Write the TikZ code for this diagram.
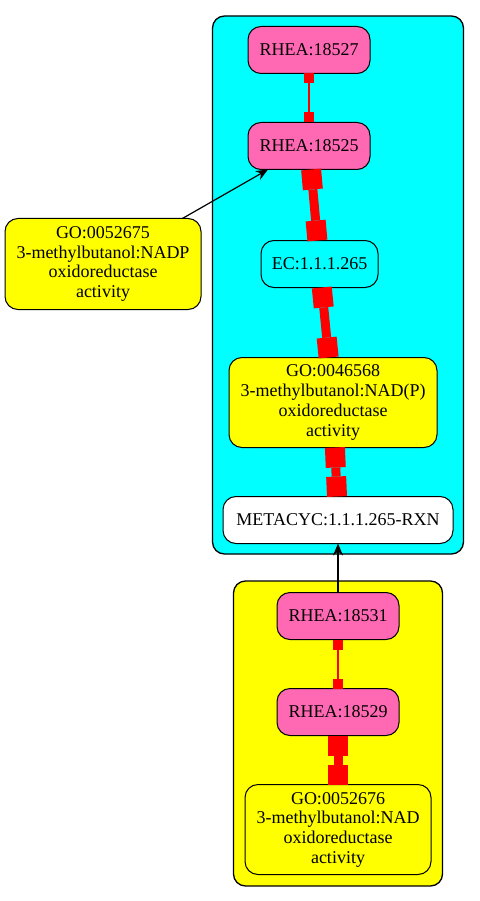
\documentclass[tikz,border=0pt]{standalone}
\usepackage{fontspec}
\setmainfont{Liberation Serif}
\usetikzlibrary{arrows.meta, positioning, fit, backgrounds}

\definecolor{rheapink}{HTML}{FF69B4}
\definecolor{aqua}{HTML}{00FFFF}
\definecolor{goyellow}{HTML}{FFFF00}

\begin{document}
\begin{tikzpicture}[
    x=1pt, y=-1pt,
    node distance=49pt,
    every node/.style={font=\fontsize{18}{19.7}\selectfont},
    box/.style={rectangle, rounded corners=13pt, draw, line width=1pt, align=center, inner sep=0pt, outer sep=0pt},
    rhea/.style={box, fill=rheapink, minimum width=122pt, minimum height=47pt},
    goterm/.style={box, fill=goyellow, minimum height=90pt},
    plain/.style={box, fill=#1, minimum height=47pt},
    cluster/.style={rectangle, rounded corners=12pt, draw, line width=1.3pt, fill=#1, inner sep=10.5pt},
    arrow/.style={line width=1.2pt, arrows={-Stealth[length=12pt,width=10pt,inset=4pt]}},
    link/.style={red, line width=1.5pt, arrows={Square[length=10pt,width=10pt,line width=0pt]-Square[length=10pt,width=10pt,line width=0pt]}},
    thicklink/.style={red, line width=9pt, arrows={Square[length=20pt,width=20pt,line width=0pt]-Square[length=20pt,width=20pt,line width=0pt]}},
]
    \useasboundingbox (0,0) rectangle (479,901);

    \node[rhea] (r18527) at (309,50) {RHEA:18527};
    \node[rhea, below=of r18527] (r18525) {RHEA:18525};
    \node[plain=aqua, minimum width=117pt, below=71pt of r18525, xshift=10.5pt] (ec) {EC:1.1.1.265};
    \node[goterm, minimum width=208pt, below=70pt of ec, xshift=13.5pt] (go46568) {GO:0046568\\3-methylbutanol:NAD(P)\\oxidoreductase\\activity};
    \node[plain=white, minimum width=230pt, below=of go46568, xshift=5pt] (metacyc) {METACYC:1.1.1.265-RXN};
    \node[goterm, minimum width=196pt, minimum height=91pt, left=60pt of ec] (go52675) {GO:0052675\\3-methylbutanol:NADP\\oxidoreductase\\activity};

    \node[rhea, below=of metacyc] (r18531) {RHEA:18531};
    \node[rhea, below=of r18531] (r18529) {RHEA:18529};
    \node[goterm, minimum width=186pt, below=of r18529] (go52676) {GO:0052676\\3-methylbutanol:NAD\\oxidoreductase\\activity};

    \begin{scope}[on background layer]
        \node[cluster=aqua, fit=(r18527) (metacyc) (go46568)] (upper) {};
        \node[cluster=goyellow, inner sep=11.5pt, fit=(r18531) (go52676)] (lower) {};
    \end{scope}

    \draw[link] (r18527) -- (r18525);
    \draw[thicklink] (r18525) -- (ec);
    \draw[thicklink] (ec) -- (go46568);
    \draw[thicklink] (go46568) -- (metacyc);
    \draw[arrow] (go52675) -- (r18525);
    \draw[arrow] (r18531) -- (metacyc);
    \draw[link] (r18531) -- (r18529);
    \draw[thicklink] (r18529) -- (go52676);
\end{tikzpicture}
\end{document}
